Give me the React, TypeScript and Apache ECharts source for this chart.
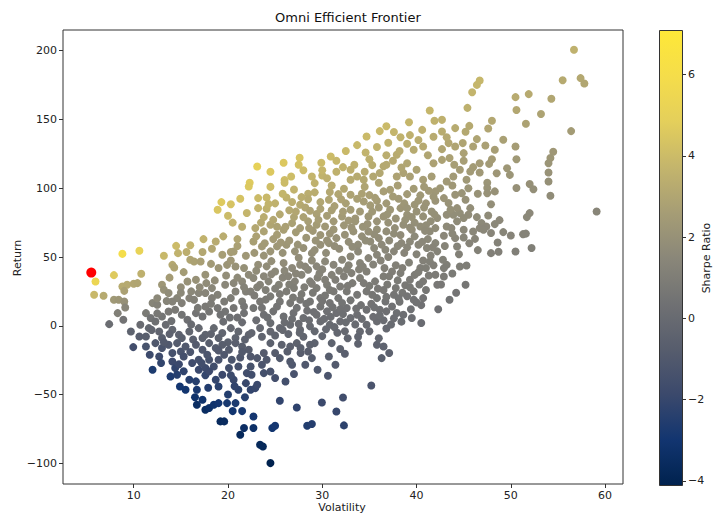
import React, { useEffect, useRef } from "react";
import * as echarts from "echarts";

// [volatility, return] pairs, grouped by region
const upperBand: number[][] = [
  [41.4,156.5],[41.9,149],[39.2,148],[36.8,145],[36.1,141.5],[37.6,140.8],[40.6,142.4],[39.3,138.6],[41.8,137.4],[34.7,137.6],
  [33.7,131.3],[39.0,132.3],[30.9,123.1],[27.6,122.1],[25.9,118.5],[23.1,115.8],[29.9,118.5],[26.7,108.5],[32.2,115.3],[33.4,117],
  [35.3,116.8],[36.5,116],[36.8,117],[37.9,124.3],[38.2,127],[39.7,128],[40.7,130.3],[28.9,108.5],[30,109.2],[30.5,107.3],
  [29.2,103.7],[33,113.4],[33.7,108.5],[34.4,106.1],[35.4,108.5],[36.1,111],[33,106.1],[37.9,108.5],[38.6,111],[39.3,108.5],
  [40,113.4],[40.7,106.1],[41.6,108.5],[22.3,104],[41.8,118.2],[39,118.2],[37.5,120],[35,121],[31.5,112],[28,113],
  [27.5,117],[30,113],[31.5,120],[32.5,127],[34.6,126],[35.8,130],[37,133],[38.3,137],[40.2,135],[41.2,124],
  [34.5,112],[36.8,124],[38.4,115],[24.5,112],[26,106]
];
const upperRight: number[][] = [
  [56.7,200.6],[46.7,178.3],[46.4,175.1],[45.9,169.8],[55.5,178.5],[57.4,180],[57.8,176.1],[50.5,166.2],[51.9,168.4],[54.3,165],
  [50.6,156.8],[53.2,153.9],[51.6,146.8],[45.4,158.4],[56.4,141.5],[48,149],[47.6,143.4],[45.6,145.3],[45.2,141],[44.1,143.7],
  [42.7,149.7],[42.7,141.2],[46.4,135.7],[46,130.3],[44.9,132.8],[44.1,130.3],[43.4,132.8],[45,125.5],[42.7,128.4],[42.7,120.6],
  [49.2,135.2],[48.3,127.9],[50.5,130.3],[50.6,121.1],[47.7,117.7],[46.7,118.2],[46,115.3],[45.7,112.1],[49.6,114.5],[49.9,109.7],
  [48.5,110.9],[46.7,111.4],[54.5,126.5],[54.2,121.9],[54,118.2],[54,111.4],[54,104.9],[44.6,113.4],[43.9,108.5],[43.2,104.9],
  [45.3,106.1],[43.5,122],[44,117],[47.5,104],[52,103],[45,120],[48,121],[43.2,137],[47.3,131]
];
const midRight: number[][] = [
  [59.1,83.1],[54.2,94.5],[52.4,99.3],[50.6,100.1],[47.9,88.4],[52,81.9],[51.7,79],[48.8,76.8],[48.3,73.9],[47.6,80.2],
  [49.2,68.1],[50,65.6],[51.3,66.6],[51.6,67],[48.6,60.5],[47.9,52.8],[48.7,53.8],[50.5,54],[52.2,56.5],[46.9,74.6],
  [46.7,71],[47.4,72.2],[47.1,69.8],[47.9,67.4],[46,68.5],[46.2,63.2],[45,69.8],[45,64.2],[44.1,63.7],[44.3,57.6],
  [42.9,65.4],[43.2,72.2],[43.7,71],[43.2,44.3],[42.9,41.9],[42.9,35.8],[44.6,43.1],[45.3,43.8],[45.2,29.8],[43.5,18.9],
  [42.9,92.8],[43.4,89.2],[44.1,95.2],[44.8,96.4],[45.2,91.6],[45.7,85.5],[45.5,80.7],[44.6,81.9],[43.9,80.7],[43.2,80.7],
  [43.6,84.3],[44.3,85.5],[45,78.3],[47.5,100.1],[48.3,97.7],[47.5,96.4],[42.5,100],[43.8,102],[45.5,100],[46.5,96],
  [44.3,76],[46.4,79],[43.8,67],[45.6,60],[43,58],[44.5,52],[46.5,55],[42.8,48],[43.8,38],[42.6,30],[44.2,24],[42.3,12]
];
const leftFrontier: number[][] = [
  [5.95,32.2],[5.8,22.5],[6.8,21.8],[8.8,52.3],[10.6,54.5],[7.9,36.8],[10.8,37.8],[8.8,28.6],[9.3,29.8],[10,30.5],
  [10.4,31],[9,25.4],[7.9,18.9],[8.4,18.9],[9,17.7],[9.1,13.3],[8.3,9.2],[8.9,4.4],[7.4,1.2],[10.6,-7.8],
  [18.9,84.3],[19.3,89.9],[20.3,88.4],[21.3,92.3],[22.2,101.2],[17.4,63],[18.7,61.3],[14.5,58.1],[14.7,52.8],[15.6,53.6],
  [13.2,50.9],[14.1,44.3],[14.3,42.4],[16,48],[16.4,46.7],[17.3,53.6],[17.1,46.7],[19.4,51.6],[20.3,53.6],[20.6,54],
  [21.9,50.9],[15.3,39],[15.7,32.2],[16.6,33.4],[17.6,37.1],[17.7,31],[18.3,27.4],[19,42],[19.9,44.3],[20.8,43.1],
  [21.7,42],[22.2,37.1],[19.7,29.8],[20.6,31],[21.5,32.2],[21.9,24.9],[22.4,24.9],[13,29.8],[13.2,26.2],[13.7,23.8],
  [14.6,20.1],[14.1,17.7],[15.1,16.5],[15.9,20.1],[16.4,18.9],[16.9,23.8],[17.6,23.8],[18.3,20.1],[18.9,22.5],[19.6,17.7],
  [20.3,20.1],[20.8,24.9],[21.5,17.7],[21.7,14.1],[12,16.5],[12.5,15.3],[11.3,9.2],[11.8,5.6],[12.3,3.1],[13,6.8],
  [13.7,10.4],[14.4,11.6],[15.1,8],[15.7,4.4],[16.6,9.2],[17.3,6.8],[18,10.4],[18.9,12.9],[19.7,10.4],[20.6,12.9],
  [21.7,9.2],[9.7,-4.1],[10.7,0.7],[11.6,-1.7],[12.7,-4.1],[13.4,0.7],[14.1,-2.9],[14.8,-6.5],[15.9,-4.1],[16.9,-1.7],
  [17.6,-6.5],[18.5,-1.7],[19.4,-5.3],[20.3,-1.7],[21.1,-4.1],[22.2,-6.5],[11.3,-7.8],[13,-8.9],[15.1,-8.9],[17.3,-8.9],
  [19,-8.9],[20.8,-8.9],
  [12.5,20],[13.8,35],[15,28],[16.1,25],[17,28],[18.6,33],[19.8,36.5],[21,35],[21.7,28],[18.2,45],
  [20.3,47.5],[21,58],[18.3,56],[16,58.5],[19.5,65],[21,63],[21.5,72],[20.5,75],[22,82],[20,80],
  [12.5,9],[14,3.5],[16.1,1],[17.6,14],[19.5,3],[20.2,6],[21.5,2.5],[11.9,-3],
  [13.5,18],[15,24],[16.8,13],[18.2,16],[19.2,8],[21,6],[13.8,-6],[16.3,-10],[18.2,-6],[20,-12],[21.8,-10]
];
const lowerLeft: number[][] = [
  [9.95,-15.5],[12,-32],[11.3,-15],[11.7,-21.1],[12.3,-12.6],[13,-16.2],[12.7,-22.3],[13.7,-13.8],[14.6,-12.6],[14.1,-19.8],
  [15,-18.7],[15.5,-15],[16.6,-13.8],[17.3,-17.4],[18,-12.6],[18.7,-16.2],[19.4,-13.8],[20.1,-17.4],[20.8,-12.6],[21.5,-15],
  [22.2,-17.4],[14.1,-25.9],[14.4,-30.7],[13.9,-36.8],[14.6,-35.6],[14.9,-44.1],[15.5,-46.5],[15.9,-39.2],[16.6,-40.4],[16.7,-46.5],
  [16.9,-32],[17.6,-30.7],[18.5,-29.6],[18.7,-39.2],[19,-44.1],[19.4,-35.6],[20.1,-30.7],[20.4,-24.7],[21.1,-29.6],[20.6,-39.2],
  [21.1,-46.5],[21.9,-41.7],[22.4,-46.5],[22,-34.4],[19,-24.7],[18,-24.7],[16.2,-27.1],[16.9,-24.7],[15.3,-22.3],[17.3,-53.8],
  [16.7,-57.4],[17.6,-61],[18,-59.8],[18.5,-57.4],[19,-56.2],[19.9,-56.2],[20.8,-56.2],[19.2,-69.5],[19.6,-69.5],[21.7,-74.3],
  [21.3,-79.2],[22.7,-65.9],
  [13.2,-12],[16,-19],[17.8,-21],[19.6,-21],[21.3,-23],[20.3,-36],[17.6,-36],[17.9,-45],[20,-50],[21.8,-52],
  [15.3,-33],[12.9,-27],[21.5,-62],[20.5,-62],[14.8,-28],[17.2,-27],[19,-18],[21.5,-19],[18,-33],[20.7,-44],[16.5,-52]
];
const lowerMid: number[][] = [
  [24.5,-99.8],[23.4,-86.5],[23.7,-87.7],[24.7,-74.3],[25,-72.7],[22.7,-74.3],[28.4,-72.7],[28.9,-71.4],[32.3,-72.4],[31.5,-62.3],
  [32.2,-52.1],[29.96,-55.7],[27.3,-59.4],[25.5,-54.5],[35.2,-43.4],[30.6,-36.3],[31.4,-28.3],[32.4,-20.3],[31.9,-16.9],[30.7,-22.3],
  [33.8,-13.1],[35.8,-13.8],[36.5,-15],[37.1,-19.8],[36.3,-23.5],[31,-12.6],[22.9,-45.3],[23.1,-42.9],[22.5,-35.6],[22.4,-29.6],
  [23.8,-34.4],[23.6,-28.3],[24.5,-33.2],[25,-38],[26.1,-40.5],[25.5,-23.5],[26.8,-28.3],[26.6,-25.9],[28.2,-28.3],[28.9,-23.5],
  [29.2,-12.6],[28.5,-18.7],[27.3,-12.6],[26.6,-15],[25.7,-13.8],[24.5,-12.6],[23.8,-19.8],[23.1,-23.5],[22.4,-22.3],[24.1,-24.7],
  [25,-19.8],[26.3,-18.7],[27.7,-19.8],[28.7,-13.8],[27.7,-16.2],[27,-35],[29.5,-32]
];
const centralCloud: number[][] = [
  [23.2,92.8],[24.1,93.3],[23.2,85.5],[24.1,85.1],[26.2,93.3],[27.65,88.0],[28.2,86.0],[28.7,83.6],[29.4,81.2],[29.8,89.9],
  [30.7,91.6],[30.8,97.2],[31.7,95.7],[32.3,99.6],[33.0,95.2],[33.7,92.3],[34.4,90.4],[35.1,87.5],[35.8,90.9],[36.5,97.7],
  [37.2,98.9],[38.1,92.3],[39.0,95.7],[39.7,99.6],[40.4,94.8],[41.3,98.1],[42.0,90.9],[41.6,83.1],[40.7,79.5],[40.0,83.1],
  [39.0,80.7],[38.3,85.5],[37.2,84.3],[36.5,79.5],[35.8,75.9],[34.9,79.5],[34.0,83.1],[33.0,84.3],[32.1,79.5],[31.2,75.9],
  [30.3,72.2],[29.4,73.4],[28.5,75.9],[27.65,71.0],[26.8,74.6],[25.9,69.8],[25.2,66.2],[24.5,73.4],[23.8,68.6],[22.9,71.0],
  [22.7,61.3],[23.6,57.7],[24.5,54.1],[25.2,57.7],[26.2,58.9],[27.1,54.1],[28.0,56.5],[28.9,52.8],[29.8,58.9],[30.7,60.1],
  [31.5,63.7],[32.4,66.2],[33.3,68.6],[34.2,65.0],[35.1,61.3],[36.0,63.7],[36.8,68.6],[37.7,71.0],[38.6,73.4],[39.5,69.8],
  [40.4,72.2],[41.4,68.6],[42.0,60.1],[41.1,56.5],[40.2,58.9],[39.3,61.3],[38.4,60.1],[37.6,54.1],[36.7,55.3],[35.8,51.6],
  [34.9,49.2],[34.0,45.6],[33.0,50.4],[32.1,48.0],[31.2,44.4],[30.3,46.8],[29.4,43.2],[28.5,40.7],[27.65,44.4],[26.8,42.0],
  [25.9,45.6],[25.0,39.5],[24.1,43.2],[23.2,44.4],[22.7,34.7],[23.4,29.8],[24.3,32.3],[25.4,29.8],[26.2,25.0],[27.1,32.3],
  [27.8,37.1],[28.7,32.3],[29.4,27.4],[30.5,29.8],[31.4,33.5],[32.3,35.9],[33.1,38.3],[34.0,34.7],[34.7,39.5],[35.6,32.3],
  [36.5,35.9],[37.4,39.5],[38.3,38.3],[39.3,33.5],[40.7,32.3],[42.0,37.1],[39.7,25.0],[40.7,20.1],[39.7,18.9],[37.6,22.6],
  [36.7,17.7],[35.8,20.1],[34.7,25.0],[33.7,22.6],[32.6,25.0],[31.7,20.1],[30.8,16.5],[29.8,20.1],[28.7,17.7],[27.65,18.9],
  [26.6,16.5],[25.5,17.7],[24.5,21.4],[23.4,17.7],[22.7,12.9],[23.8,8.0],[24.8,10.5],[25.9,6.8],[26.95,9.3],[28.0,5.6],
  [29.4,8.0],[30.5,10.5],[31.5,9.3],[32.6,12.9],[33.7,8.0],[34.7,11.7],[36.1,11.7],[36.8,10.5],[37.9,9.3],[39.5,5.6],
  [35.8,3.2],[34.7,0.8],[34.0,-4.1],[33.0,5.6],[31.9,3.2],[30.8,0.8],[29.8,3.2],[28.7,-0.4],[27.65,-2.9],[26.6,0.8],
  [25.5,-1.6],[24.5,-4.1],[23.4,-1.6],[22.5,-5.3],[42.0,97.7],[42.2,78.3],[42.0,71.0],[42.2,54.1],[41.4,46.8],[40.4,42.0],
  [42.2,29.8]
];
const centralFill: number[][] = [
  [24.5,101],[27,99],[28.5,96],[31,102],[34.5,101],[36,104],[38,102],[40.8,101],[26,104],
  [25,89],[26.8,90],[31.3,87],[32.5,89],[36.8,89],[39.8,88],[41,89],[37.5,94],[35,95],[28.5,92],
  [23.8,79],[25.5,81],[27,79],[30.5,80],[33.5,78],[35.3,83],[37.8,78],[38.8,77],[41.5,76],[26.5,84],[31,84],
  [23.5,75],[25.2,72],[27.2,68],[29,69],[31.2,70],[32.3,73],[34.3,72],[35.8,70],[37,75],[39.8,75],[41,73],[33.5,76],
  [23,65],[24.8,63],[26.5,62],[28.3,64],[29.8,66],[30.5,62],[32.8,61],[33.8,59],[37.1,62],[38.3,66],[39.8,65],[41.2,63],[35.5,66.5],
  [22.8,53],[23.8,51],[25.8,53],[27.5,49.5],[29.2,55],[30.4,53],[31.8,56],[33.8,54],[35.5,56.5],[37,50],[38.7,53],[40,52],[41.5,51],[39,57],
  [23,40],[24.6,47],[26,40],[27.2,38],[28.9,47.5],[30,41],[31.8,40],[32.8,44],[33.9,41],[35.4,44.5],[36.2,47.5],[37.8,44],[39.2,46],[40.7,47.5],[41.8,44],[38.5,42],
  [23.8,36],[25.8,35],[26.5,30],[28.1,28],[29.5,35],[30.3,33.5],[31.9,28.5],[33.2,31],[35,29],[36.9,30],[38,33],[39.8,37],[41.3,36.5],[37.8,27.5],[38.8,29.5],
  [22.8,22],[24,26],[25.5,23],[27.8,23],[29,24],[30.3,22],[31.2,25],[33,18.5],[35.3,22.5],[36.5,26],[38.5,24],[41,26],[39,21.5],[38.2,17.5],
  [23.6,13],[25.2,14],[27.3,13],[28.4,11],[29.8,14],[31.1,13.5],[32.1,16.5],[34.1,15],[35.2,16],[37.4,14],[39.4,12],[40.5,15],[38.6,8],
  [23,4],[24.5,2],[26,2.5],[27.5,1.5],[28.6,4],[30.2,5],[31.3,-1],[32.5,2.5],[33.5,1],[35.4,6.5],[36.5,4],[37.3,1],[38.4,3],[40.5,2],
  [23.6,-8],[25,-7],[26.4,-6],[28,-8],[29.2,-4],[30,-7.5],[31.6,-5],[32.7,-9],[35,-4],[36,-9],[36.8,-2]
];
const coreFill: number[][] = [
  [25.8,96],[27.8,93.5],[29.2,97],[32,92],[34.2,96],[35.6,93],[38.7,89],[40.2,91],[41.8,94],[24.3,88.5],
  [27.2,83],[29.8,85],[32.2,83],[36,86],[39,85.5],[40.8,86],[24.8,77],[28,79],[29.6,77],[32.8,76.5],
  [34.8,74],[36.9,81],[39.5,79],[41.9,81],[26.1,72],[28.6,71],[30.8,67],[33.1,71.5],[34.9,68.5],[37.6,67],
  [39.3,71.5],[40.9,69],[23.9,60],[25.6,60.5],[27.4,59],[29.3,62],[31.3,58],[33.2,57.5],[34.6,62],[36.3,59],
  [38,58],[40.6,61],[41.7,57],
  [24.6,37.5],[26.4,36],[28.2,43],[29.7,38],[31,37],[32.6,41],[34.3,43],[36.6,42],[37.1,36],[40.2,39],
  [41,42],[23.1,28],[25,27],[27,27.5],[28.9,30.5],[30.8,26],[32.7,29],[34.4,31],[35.9,27],[39.3,28],
  [40.3,30],[24,19],[26.9,20.5],[28.3,16],[30,18],[31.9,12],[33.6,12.5],[35.5,13.5],[36.8,21],[38.1,20],
  [40,17],[24.2,6],[26.8,5],[29.1,10],[30.9,6.5],[32.2,8.5],[34.2,5],[36.1,7.5],[37.6,5.5],[25.8,-3],
  [27.6,-5],[30.4,-2.5],[32.4,-4],[33.8,-8]
];
// highlighted maximum-Sharpe portfolio
const maxSharpePoint: number[][] = [[5.5, 38.7]];

const xTicks = [10, 20, 30, 40, 50, 60];
const yTicks = [-100, -50, 0, 50, 100, 150, 200];
const sharpeTicks = [-4, -2, 0, 2, 4, 6];
const cividis = ["#00224e", "#123570", "#3b496c", "#575d6d", "#707173", "#8a8779", "#a69d75", "#c4b56c", "#e4cf5b", "#f5dd4a", "#fee838"];

const SHARPE_MIN = -4.1;
const SHARPE_MAX = 7.1;
const FONT = "DejaVu Sans";
const minus = (v: number) => String(v).replace("-", "\u2212");

export default function App() {
  const ref = useRef<HTMLDivElement>(null);
  useEffect(() => {
    if (!ref.current) return;
    const chart = echarts.init(ref.current, undefined, { renderer: "svg" });
    const all = [...upperBand, ...upperRight, ...midRight, ...leftFrontier, ...lowerLeft, ...lowerMid, ...centralCloud, ...centralFill, ...coreFill];
    const data = all.map(([v, r]) => [v, r, r / v]);
    const barTop = 30, barH = 455, barLeft = 659, barW = 23;
    const tickStyle = { show: true, length: 4, lineStyle: { color: "#333" } };
    const labelStyle = { color: "#222", fontSize: 11, fontFamily: FONT, margin: 6 };
    chart.setOption({
      animation: false,
      backgroundColor: "#ffffff",
      textStyle: { fontFamily: FONT },
      grid: [
        { left: 63, right: 91, top: 30, bottom: 29, show: true, borderColor: "#333", borderWidth: 1, backgroundColor: "transparent" },
        { left: barLeft, width: barW, top: barTop, height: barH, show: false },
      ],
      xAxis: [
        {
          type: "value", gridIndex: 0, min: 2.5, max: 61.9,
          axisLine: { show: false, onZero: false }, splitLine: { show: false },
          axisTick: { ...tickStyle, customValues: xTicks },
          axisLabel: { ...labelStyle, customValues: xTicks },
        },
        { type: "value", gridIndex: 1, min: 0, max: 1, show: false, axisLine: { onZero: false } },
      ],
      yAxis: [
        {
          type: "value", gridIndex: 0, min: -115, max: 215,
          axisLine: { show: false, onZero: false }, splitLine: { show: false },
          axisTick: { ...tickStyle, customValues: yTicks },
          axisLabel: { ...labelStyle, customValues: yTicks, formatter: (v: number) => minus(v) },
        },
        {
          type: "value", gridIndex: 1, position: "right", min: SHARPE_MIN, max: SHARPE_MAX,
          axisLine: { show: false, onZero: false }, splitLine: { show: false },
          axisTick: { ...tickStyle, customValues: sharpeTicks },
          axisLabel: { ...labelStyle, customValues: sharpeTicks, formatter: (v: number) => minus(v) },
        },
      ],
      visualMap: {
        show: false, type: "continuous", seriesIndex: 0, dimension: 2,
        min: SHARPE_MIN, max: SHARPE_MAX, inRange: { color: cividis },
      },
      series: [
        { type: "scatter", xAxisIndex: 0, yAxisIndex: 0, data, symbolSize: 8, itemStyle: { opacity: 1 } },
        { type: "scatter", xAxisIndex: 0, yAxisIndex: 0, data: maxSharpePoint, symbolSize: 10, itemStyle: { color: "#ff0000", opacity: 1 }, z: 5 },
        { type: "scatter", xAxisIndex: 1, yAxisIndex: 1, data: [], silent: true },
      ],
      graphic: [
        {
          type: "rect", left: barLeft, top: barTop, z: -1,
          shape: { width: barW, height: barH },
          style: {
            fill: new echarts.graphic.LinearGradient(0, 0, 0, 1,
              cividis.slice().reverse().map((c, i) => ({ offset: i / (cividis.length - 1), color: c }))),
            stroke: "#333", lineWidth: 1,
          },
        },
        { type: "text", left: 275, top: 11, style: { text: "Omni Efficient Frontier", fontSize: 13, fontFamily: FONT, fill: "#111" } },
        { type: "text", x: 17, y: 258, rotation: Math.PI / 2, style: { text: "Return", fontSize: 11, fontFamily: FONT, fill: "#222", align: "center", verticalAlign: "middle" } },
        { type: "text", x: 342, y: 502, style: { text: "Volatility", fontSize: 11, fontFamily: FONT, fill: "#222", align: "center", verticalAlign: "top" } },
        { type: "text", x: 706, y: 258, rotation: Math.PI / 2, style: { text: "Sharpe Ratio", fontSize: 11, fontFamily: FONT, fill: "#222", align: "center", verticalAlign: "middle" } },
      ],
    });
    return () => chart.dispose();
  }, []);
  return <div ref={ref} style={{ position: "fixed", left: 0, top: 0, width: 714, height: 513 }} />;
}
